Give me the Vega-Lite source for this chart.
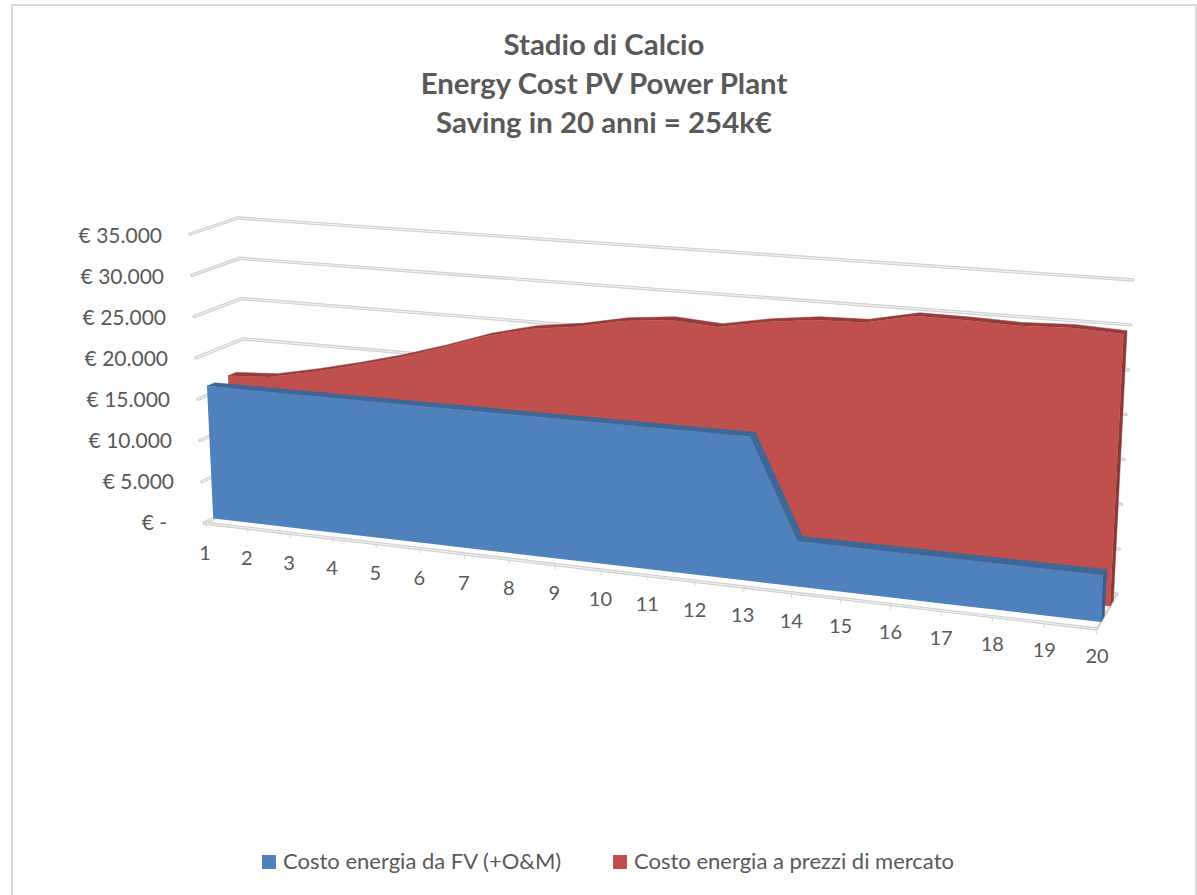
{
"$schema":"https://vega.github.io/schema/vega-lite/v6.json",
"width":1184,"height":892,
"padding":{"left":12,"top":5,"right":1,"bottom":-2},
"autosize":"none",
"background":"white",
"view":{"stroke":"#d9d9d9","strokeWidth":2,"fill":"white"},
"config":{"font":"Lato"},
"title":{"text":["Stadio di Calcio","Energy Cost PV Power Plant","Saving in 20 anni = 254k€"],"anchor":"middle","frame":"group","baseline":"top","dy":138,"dx":0,"fontSize":29.4,"lineHeight":39,"font":"Lato","fontWeight":"bold","color":"#595959"},
"datasets":{
"griglia":[{"valore":0,"etichetta":"€ -"},{"valore":5000,"etichetta":"€ 5.000"},{"valore":10000,"etichetta":"€ 10.000"},{"valore":15000,"etichetta":"€ 15.000"},{"valore":20000,"etichetta":"€ 20.000"},{"valore":25000,"etichetta":"€ 25.000"},{"valore":30000,"etichetta":"€ 30.000"},{"valore":35000,"etichetta":"€ 35.000"}],
"serie":[
{"anno":1,"serie":"Costo energia da FV (+O&M)","valore":16100},{"anno":2,"serie":"Costo energia da FV (+O&M)","valore":16110},{"anno":3,"serie":"Costo energia da FV (+O&M)","valore":16120},{"anno":4,"serie":"Costo energia da FV (+O&M)","valore":16130},{"anno":5,"serie":"Costo energia da FV (+O&M)","valore":16130},{"anno":6,"serie":"Costo energia da FV (+O&M)","valore":16140},{"anno":7,"serie":"Costo energia da FV (+O&M)","valore":16150},{"anno":8,"serie":"Costo energia da FV (+O&M)","valore":16150},{"anno":9,"serie":"Costo energia da FV (+O&M)","valore":16160},{"anno":10,"serie":"Costo energia da FV (+O&M)","valore":16170},{"anno":11,"serie":"Costo energia da FV (+O&M)","valore":16170},{"anno":12,"serie":"Costo energia da FV (+O&M)","valore":16180},{"anno":13,"serie":"Costo energia da FV (+O&M)","valore":16200},{"anno":14,"serie":"Costo energia da FV (+O&M)","valore":5050},{"anno":15,"serie":"Costo energia da FV (+O&M)","valore":5040},{"anno":16,"serie":"Costo energia da FV (+O&M)","valore":5030},{"anno":17,"serie":"Costo energia da FV (+O&M)","valore":5020},{"anno":18,"serie":"Costo energia da FV (+O&M)","valore":5010},{"anno":19,"serie":"Costo energia da FV (+O&M)","valore":5000},{"anno":20,"serie":"Costo energia da FV (+O&M)","valore":5000},
{"anno":1,"serie":"Costo energia a prezzi di mercato","valore":16280},{"anno":2,"serie":"Costo energia a prezzi di mercato","valore":16590},{"anno":3,"serie":"Costo energia a prezzi di mercato","valore":17660},{"anno":4,"serie":"Costo energia a prezzi di mercato","valore":18910},{"anno":5,"serie":"Costo energia a prezzi di mercato","valore":20280},{"anno":6,"serie":"Costo energia a prezzi di mercato","valore":21920},{"anno":7,"serie":"Costo energia a prezzi di mercato","valore":23740},{"anno":8,"serie":"Costo energia a prezzi di mercato","valore":25070},{"anno":9,"serie":"Costo energia a prezzi di mercato","valore":25780},{"anno":10,"serie":"Costo energia a prezzi di mercato","valore":26870},{"anno":11,"serie":"Costo energia a prezzi di mercato","valore":27410},{"anno":12,"serie":"Costo energia a prezzi di mercato","valore":27040},{"anno":13,"serie":"Costo energia a prezzi di mercato","valore":28040},{"anno":14,"serie":"Costo energia a prezzi di mercato","valore":28700},{"anno":15,"serie":"Costo energia a prezzi di mercato","valore":28840},{"anno":16,"serie":"Costo energia a prezzi di mercato","valore":30000},{"anno":17,"serie":"Costo energia a prezzi di mercato","valore":29960},{"anno":18,"serie":"Costo energia a prezzi di mercato","valore":29790},{"anno":19,"serie":"Costo energia a prezzi di mercato","valore":30000},{"anno":20,"serie":"Costo energia a prezzi di mercato","valore":29750}
]},
"encoding":{
"x":{"field":"px","type":"quantitative","axis":null,"scale":{"domain":[12,1196],"nice":false,"zero":false}},
"y":{"field":"py","type":"quantitative","axis":null,"scale":{"domain":[897,5],"nice":false,"zero":false}}
},
"layer":[
{"data":{"name":"griglia"},
"transform":[{"fold":["a","b","c"],"as":["vertice","k"]},
{"calculate":"datum.vertice=='c'?1:0","as":"t"},{"calculate":"datum.vertice=='a'?0:1","as":"d"},{"calculate":"datum.valore/35000","as":"v"},
{"calculate":"(1-datum.t)*((1-datum.v)*((1-datum.d)*204+datum.d*250)+datum.v*((1-datum.d)*190+datum.d*238))+datum.t*((1-datum.v)*((1-datum.d)*1097+datum.d*1117)+datum.v*((1-datum.d)*1113+datum.d*1133))","as":"px"},
{"calculate":"(1-datum.t)*((1-datum.v)*((1-datum.d)*523+datum.d*500)+datum.v*((1-datum.d)*234+datum.d*218))+datum.t*((1-datum.v)*((1-datum.d)*629+datum.d*594)+datum.v*((1-datum.d)*297+datum.d*280))","as":"py"}],
"mark":{"type":"line","stroke":"#cfcfcf","strokeWidth":3.4,"strokeCap":"round"},
"encoding":{"detail":{"field":"valore"},"order":{"field":"vertice"}}},
{"data":{"name":"griglia"},
"transform":[{"fold":["a","b","c"],"as":["vertice","k"]},
{"calculate":"datum.vertice=='c'?1:0","as":"t"},{"calculate":"datum.vertice=='a'?0:1","as":"d"},{"calculate":"datum.valore/35000","as":"v"},
{"calculate":"(1-datum.t)*((1-datum.v)*((1-datum.d)*204+datum.d*250)+datum.v*((1-datum.d)*190+datum.d*238))+datum.t*((1-datum.v)*((1-datum.d)*1097+datum.d*1117)+datum.v*((1-datum.d)*1113+datum.d*1133))","as":"px"},
{"calculate":"(1-datum.t)*((1-datum.v)*((1-datum.d)*523+datum.d*500)+datum.v*((1-datum.d)*234+datum.d*218))+datum.t*((1-datum.v)*((1-datum.d)*629+datum.d*594)+datum.v*((1-datum.d)*297+datum.d*280))","as":"py"}],
"mark":{"type":"line","stroke":"#f0f0f0","strokeWidth":1.2},
"encoding":{"detail":{"field":"valore"},"order":{"field":"vertice"}}},
{"data":{"name":"griglia"},
"transform":[{"filter":"datum.valore==0"},{"fold":["a","b"],"as":["vertice","k"]},
{"calculate":"datum.vertice=='b'?1:0","as":"t"},
{"calculate":"(1-datum.t)*204+datum.t*1097","as":"px"},
{"calculate":"(1-datum.t)*523+datum.t*629","as":"py"}],
"mark":{"type":"line","stroke":"#cfcfcf","strokeWidth":3.4},
"encoding":{"order":{"field":"vertice"}}},
{"data":{"name":"griglia"},
"transform":[{"filter":"datum.valore==0"},{"fold":["a","b"],"as":["vertice","k"]},
{"calculate":"datum.vertice=='b'?1:0","as":"t"},
{"calculate":"(1-datum.t)*204+datum.t*1097","as":"px"},
{"calculate":"(1-datum.t)*523+datum.t*629","as":"py"}],
"mark":{"type":"line","stroke":"#f0f0f0","strokeWidth":1.2},
"encoding":{"order":{"field":"vertice"}}},
{"data":{"name":"griglia"},
"transform":[{"filter":"datum.valore==0"},{"fold":["a","b"],"as":["vertice","k"]},
{"calculate":"datum.vertice=='b'?1:0","as":"d"},
{"calculate":"(1-datum.d)*1097+datum.d*1117","as":"px"},
{"calculate":"(1-datum.d)*629+datum.d*594","as":"py"}],
"mark":{"type":"line","stroke":"#d4d4d4","strokeWidth":2.6},
"encoding":{"order":{"field":"vertice"}}},
{"data":{"name":"serie"},
"transform":[{"filter":"datum.serie=='Costo energia da FV (+O&M)'"},{"fold":["a","b"],"as":["vertice","k"]},
{"calculate":"(datum.anno-1)/19/(1.13-0.13*(datum.anno-1)/19)","as":"t"},
{"calculate":"datum.vertice=='b'?-0.016:0","as":"v"},{"calculate":"0","as":"d"},
{"calculate":"(1-datum.t)*((1-datum.v)*((1-datum.d)*204+datum.d*250)+datum.v*((1-datum.d)*190+datum.d*238))+datum.t*((1-datum.v)*((1-datum.d)*1097+datum.d*1117)+datum.v*((1-datum.d)*1113+datum.d*1133))+2*(1-datum.t)","as":"px"},
{"calculate":"(1-datum.t)*((1-datum.v)*((1-datum.d)*523+datum.d*500)+datum.v*((1-datum.d)*234+datum.d*218))+datum.t*((1-datum.v)*((1-datum.d)*629+datum.d*594)+datum.v*((1-datum.d)*297+datum.d*280))","as":"py"}],
"mark":{"type":"line","stroke":"#d4d4d4","strokeWidth":1},
"encoding":{"detail":{"field":"anno"},"order":{"field":"vertice"}}},
{"data":{"name":"serie"},
"transform":[{"filter":"datum.serie=='Costo energia a prezzi di mercato' && datum.anno==20"},{"fold":["a","b","c","e"],"as":["vertice","k"]},
{"calculate":"1","as":"t"},
{"calculate":"datum.vertice=='a'||datum.vertice=='b'?datum.valore/35000:0","as":"v"},
{"calculate":"datum.vertice=='a'||datum.vertice=='e'?0.65:0.82","as":"d"},
{"calculate":"(1-datum.t)*((1-datum.v)*((1-datum.d)*204+datum.d*250)+datum.v*((1-datum.d)*190+datum.d*238))+datum.t*((1-datum.v)*((1-datum.d)*1097+datum.d*1117)+datum.v*((1-datum.d)*1113+datum.d*1133))","as":"px"},
{"calculate":"(1-datum.t)*((1-datum.v)*((1-datum.d)*523+datum.d*500)+datum.v*((1-datum.d)*234+datum.d*218))+datum.t*((1-datum.v)*((1-datum.d)*629+datum.d*594)+datum.v*((1-datum.d)*297+datum.d*280))","as":"py"}],
"mark":{"type":"line","interpolate":"linear-closed","fill":"#8c3836","stroke":"#8c3836","strokeWidth":0.5},
"encoding":{"order":{"field":"vertice"}}},
{"data":{"name":"serie"},
"transform":[{"filter":"datum.serie=='Costo energia a prezzi di mercato'"},{"fold":["a","b"],"as":["vertice","k"]},
{"calculate":"(datum.anno-1)/19/(1.13-0.13*(datum.anno-1)/19)","as":"t"},
{"calculate":"datum.valore/35000","as":"v"},
{"calculate":"datum.vertice=='a'?0.65:0.82","as":"d"},
{"calculate":"datum.vertice=='a'?datum.anno:100-datum.anno","as":"o"},
{"calculate":"(1-datum.t)*((1-datum.v)*((1-datum.d)*204+datum.d*250)+datum.v*((1-datum.d)*190+datum.d*238))+datum.t*((1-datum.v)*((1-datum.d)*1097+datum.d*1117)+datum.v*((1-datum.d)*1113+datum.d*1133))","as":"px"},
{"calculate":"(1-datum.t)*((1-datum.v)*((1-datum.d)*523+datum.d*500)+datum.v*((1-datum.d)*234+datum.d*218))+datum.t*((1-datum.v)*((1-datum.d)*629+datum.d*594)+datum.v*((1-datum.d)*297+datum.d*280))","as":"py"}],
"mark":{"type":"line","interpolate":"linear-closed","fill":"#963b39","stroke":"#963b39","strokeWidth":0.5},
"encoding":{"order":{"field":"o"}}},
{"data":{"name":"serie"},
"transform":[{"filter":"datum.serie=='Costo energia a prezzi di mercato'"},{"fold":["a","b"],"as":["vertice","k"]},
{"calculate":"(datum.anno-1)/19/(1.13-0.13*(datum.anno-1)/19)","as":"t"},
{"calculate":"datum.vertice=='a'?datum.valore/35000:0","as":"v"},
{"calculate":"0.65","as":"d"},
{"calculate":"datum.vertice=='a'?datum.anno:100-datum.anno","as":"o"},
{"calculate":"(1-datum.t)*((1-datum.v)*((1-datum.d)*204+datum.d*250)+datum.v*((1-datum.d)*190+datum.d*238))+datum.t*((1-datum.v)*((1-datum.d)*1097+datum.d*1117)+datum.v*((1-datum.d)*1113+datum.d*1133))","as":"px"},
{"calculate":"(1-datum.t)*((1-datum.v)*((1-datum.d)*523+datum.d*500)+datum.v*((1-datum.d)*234+datum.d*218))+datum.t*((1-datum.v)*((1-datum.d)*629+datum.d*594)+datum.v*((1-datum.d)*297+datum.d*280))","as":"py"}],
"mark":{"type":"line","interpolate":"linear-closed","strokeWidth":0},
"encoding":{"order":{"field":"o"},"fill":{"field":"serie","type":"nominal","scale":{"domain":["Costo energia da FV (+O&M)","Costo energia a prezzi di mercato"],"range":["#4f81bd","#c0504d"]},"legend":{"title":null,"orient":"none","legendX":246,"legendY":846,"direction":"horizontal","columns":2,"symbolType":"square","symbolSize":196,"symbolStrokeWidth":0,"labelFontSize":22,"labelFont":"Lato","labelColor":"#595959","columnPadding":46,"labelOffset":3,"labelLimit":500}}}},
{"data":{"name":"serie"},
"transform":[{"filter":"datum.serie=='Costo energia da FV (+O&M)' && datum.anno==20"},{"fold":["a","b","c","e"],"as":["vertice","k"]},
{"calculate":"1","as":"t"},
{"calculate":"datum.vertice=='a'||datum.vertice=='b'?datum.valore/35000:0","as":"v"},
{"calculate":"datum.vertice=='a'||datum.vertice=='e'?0.2:0.37","as":"d"},
{"calculate":"(1-datum.t)*((1-datum.v)*((1-datum.d)*204+datum.d*250)+datum.v*((1-datum.d)*190+datum.d*238))+datum.t*((1-datum.v)*((1-datum.d)*1097+datum.d*1117)+datum.v*((1-datum.d)*1113+datum.d*1133))","as":"px"},
{"calculate":"(1-datum.t)*((1-datum.v)*((1-datum.d)*523+datum.d*500)+datum.v*((1-datum.d)*234+datum.d*218))+datum.t*((1-datum.v)*((1-datum.d)*629+datum.d*594)+datum.v*((1-datum.d)*297+datum.d*280))","as":"py"}],
"mark":{"type":"line","interpolate":"linear-closed","fill":"#35608f","stroke":"#35608f","strokeWidth":0.5},
"encoding":{"order":{"field":"vertice"}}},
{"data":{"name":"serie"},
"transform":[{"filter":"datum.serie=='Costo energia da FV (+O&M)'"},{"fold":["a","b"],"as":["vertice","k"]},
{"calculate":"(datum.anno-1)/19/(1.13-0.13*(datum.anno-1)/19)","as":"t"},
{"calculate":"datum.valore/35000","as":"v"},
{"calculate":"datum.vertice=='a'?0.2:0.37","as":"d"},
{"calculate":"datum.vertice=='a'?datum.anno:100-datum.anno","as":"o"},
{"calculate":"(1-datum.t)*((1-datum.v)*((1-datum.d)*204+datum.d*250)+datum.v*((1-datum.d)*190+datum.d*238))+datum.t*((1-datum.v)*((1-datum.d)*1097+datum.d*1117)+datum.v*((1-datum.d)*1113+datum.d*1133))","as":"px"},
{"calculate":"(1-datum.t)*((1-datum.v)*((1-datum.d)*523+datum.d*500)+datum.v*((1-datum.d)*234+datum.d*218))+datum.t*((1-datum.v)*((1-datum.d)*629+datum.d*594)+datum.v*((1-datum.d)*297+datum.d*280))","as":"py"}],
"mark":{"type":"line","interpolate":"linear-closed","fill":"#3c6796","stroke":"#3c6796","strokeWidth":0.5},
"encoding":{"order":{"field":"o"}}},
{"data":{"name":"serie"},
"transform":[{"filter":"datum.serie=='Costo energia da FV (+O&M)'"},{"fold":["a","b"],"as":["vertice","k"]},
{"calculate":"(datum.anno-1)/19/(1.13-0.13*(datum.anno-1)/19)","as":"t"},
{"calculate":"datum.vertice=='a'?datum.valore/35000:0","as":"v"},
{"calculate":"0.2","as":"d"},
{"calculate":"datum.vertice=='a'?datum.anno:100-datum.anno","as":"o"},
{"calculate":"(1-datum.t)*((1-datum.v)*((1-datum.d)*204+datum.d*250)+datum.v*((1-datum.d)*190+datum.d*238))+datum.t*((1-datum.v)*((1-datum.d)*1097+datum.d*1117)+datum.v*((1-datum.d)*1113+datum.d*1133))","as":"px"},
{"calculate":"(1-datum.t)*((1-datum.v)*((1-datum.d)*523+datum.d*500)+datum.v*((1-datum.d)*234+datum.d*218))+datum.t*((1-datum.v)*((1-datum.d)*629+datum.d*594)+datum.v*((1-datum.d)*297+datum.d*280))","as":"py"}],
"mark":{"type":"line","interpolate":"linear-closed","strokeWidth":0},
"encoding":{"order":{"field":"o"},"fill":{"field":"serie","type":"nominal"}}},
{"data":{"name":"griglia"},
"transform":[
{"calculate":"datum.valore/35000","as":"v"},
{"calculate":"datum.valore==0?167:190+14*(1-datum.v)-28","as":"px"},
{"calculate":"524-287*datum.v","as":"py"}],
"mark":{"type":"text","align":"right","baseline":"middle","fontSize":21,"font":"Lato","color":"#595959"},
"encoding":{"text":{"field":"etichetta"}}},
{"data":{"name":"serie"},
"transform":[{"filter":"datum.serie=='Costo energia da FV (+O&M)'"},
{"calculate":"(datum.anno-1)/19/(1.13-0.13*(datum.anno-1)/19)","as":"t"},
{"calculate":"(1-datum.t)*205+datum.t*1097","as":"px"},
{"calculate":"(1-datum.t)*554+datum.t*657","as":"py"}],
"mark":{"type":"text","align":"center","baseline":"middle","fontSize":20,"font":"Lato","color":"#595959"},
"encoding":{"text":{"field":"anno","type":"quantitative"}}}
]
}
